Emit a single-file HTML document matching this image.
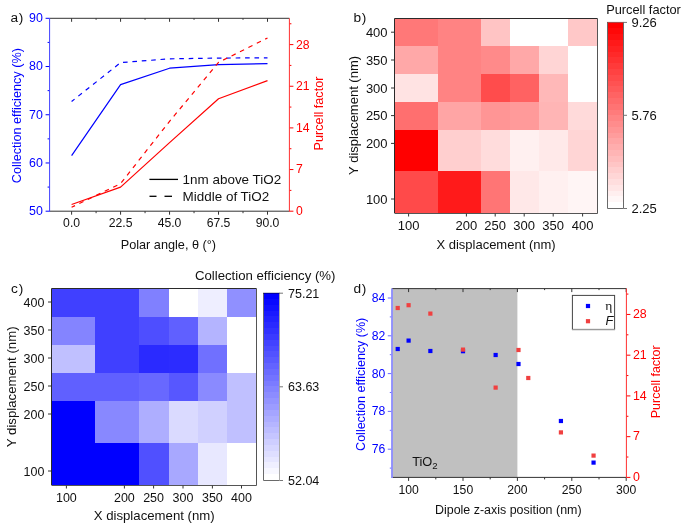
<!DOCTYPE html>
<html><head><meta charset="utf-8"><style>
html,body{margin:0;padding:0;background:#fff;}
svg{display:block;will-change:transform;font-family:'Liberation Sans',sans-serif;}
</style></head><body>
<svg width="685" height="525" viewBox="0 0 685 525">
<rect width="685" height="525" fill="#fff"/>
<line x1="45.60" y1="211.20" x2="49.60" y2="211.20" stroke="#0000ff" stroke-width="1" />
<text x="42.80" y="215.10" font-size="12.4" fill="#0000ff" text-anchor="end" >50</text>
<line x1="47.60" y1="187.09" x2="49.60" y2="187.09" stroke="#0000ff" stroke-width="1" />
<line x1="45.60" y1="162.97" x2="49.60" y2="162.97" stroke="#0000ff" stroke-width="1" />
<text x="42.80" y="166.88" font-size="12.4" fill="#0000ff" text-anchor="end" >60</text>
<line x1="47.60" y1="138.86" x2="49.60" y2="138.86" stroke="#0000ff" stroke-width="1" />
<line x1="45.60" y1="114.75" x2="49.60" y2="114.75" stroke="#0000ff" stroke-width="1" />
<text x="42.80" y="118.65" font-size="12.4" fill="#0000ff" text-anchor="end" >70</text>
<line x1="47.60" y1="90.64" x2="49.60" y2="90.64" stroke="#0000ff" stroke-width="1" />
<line x1="45.60" y1="66.53" x2="49.60" y2="66.53" stroke="#0000ff" stroke-width="1" />
<text x="42.80" y="70.43" font-size="12.4" fill="#0000ff" text-anchor="end" >80</text>
<line x1="47.60" y1="42.41" x2="49.60" y2="42.41" stroke="#0000ff" stroke-width="1" />
<line x1="45.60" y1="18.30" x2="49.60" y2="18.30" stroke="#0000ff" stroke-width="1" />
<text x="42.80" y="22.20" font-size="12.4" fill="#0000ff" text-anchor="end" >90</text>
<line x1="71.60" y1="211.20" x2="71.60" y2="214.70" stroke="#333" stroke-width="1" />
<line x1="71.60" y1="18.30" x2="71.60" y2="21.80" stroke="#333" stroke-width="1" />
<text x="71.60" y="227.20" font-size="12.2" fill="#111" text-anchor="middle" >0.0</text>
<line x1="96.09" y1="211.20" x2="96.09" y2="213.20" stroke="#333" stroke-width="1" />
<line x1="96.09" y1="18.30" x2="96.09" y2="19.80" stroke="#333" stroke-width="1" />
<line x1="120.57" y1="211.20" x2="120.57" y2="214.70" stroke="#333" stroke-width="1" />
<line x1="120.57" y1="18.30" x2="120.57" y2="21.80" stroke="#333" stroke-width="1" />
<text x="120.57" y="227.20" font-size="12.2" fill="#111" text-anchor="middle" >22.5</text>
<line x1="145.06" y1="211.20" x2="145.06" y2="213.20" stroke="#333" stroke-width="1" />
<line x1="145.06" y1="18.30" x2="145.06" y2="19.80" stroke="#333" stroke-width="1" />
<line x1="169.55" y1="211.20" x2="169.55" y2="214.70" stroke="#333" stroke-width="1" />
<line x1="169.55" y1="18.30" x2="169.55" y2="21.80" stroke="#333" stroke-width="1" />
<text x="169.55" y="227.20" font-size="12.2" fill="#111" text-anchor="middle" >45.0</text>
<line x1="194.04" y1="211.20" x2="194.04" y2="213.20" stroke="#333" stroke-width="1" />
<line x1="194.04" y1="18.30" x2="194.04" y2="19.80" stroke="#333" stroke-width="1" />
<line x1="218.53" y1="211.20" x2="218.53" y2="214.70" stroke="#333" stroke-width="1" />
<line x1="218.53" y1="18.30" x2="218.53" y2="21.80" stroke="#333" stroke-width="1" />
<text x="218.53" y="227.20" font-size="12.2" fill="#111" text-anchor="middle" >67.5</text>
<line x1="243.01" y1="211.20" x2="243.01" y2="213.20" stroke="#333" stroke-width="1" />
<line x1="243.01" y1="18.30" x2="243.01" y2="19.80" stroke="#333" stroke-width="1" />
<line x1="267.50" y1="211.20" x2="267.50" y2="214.70" stroke="#333" stroke-width="1" />
<line x1="267.50" y1="18.30" x2="267.50" y2="21.80" stroke="#333" stroke-width="1" />
<text x="267.50" y="227.20" font-size="12.2" fill="#111" text-anchor="middle" >90.0</text>
<line x1="289.40" y1="211.20" x2="293.40" y2="211.20" stroke="#ff0000" stroke-width="1" />
<text x="295.90" y="215.10" font-size="12.2" fill="#ff0000" text-anchor="start" >0</text>
<line x1="289.40" y1="190.38" x2="291.40" y2="190.38" stroke="#ff0000" stroke-width="1" />
<line x1="289.40" y1="169.55" x2="293.40" y2="169.55" stroke="#ff0000" stroke-width="1" />
<text x="295.90" y="173.45" font-size="12.2" fill="#ff0000" text-anchor="start" >7</text>
<line x1="289.40" y1="148.72" x2="291.40" y2="148.72" stroke="#ff0000" stroke-width="1" />
<line x1="289.40" y1="127.90" x2="293.40" y2="127.90" stroke="#ff0000" stroke-width="1" />
<text x="295.90" y="131.80" font-size="12.2" fill="#ff0000" text-anchor="start" >14</text>
<line x1="289.40" y1="107.07" x2="291.40" y2="107.07" stroke="#ff0000" stroke-width="1" />
<line x1="289.40" y1="86.25" x2="293.40" y2="86.25" stroke="#ff0000" stroke-width="1" />
<text x="295.90" y="90.15" font-size="12.2" fill="#ff0000" text-anchor="start" >21</text>
<line x1="289.40" y1="65.42" x2="291.40" y2="65.42" stroke="#ff0000" stroke-width="1" />
<line x1="289.40" y1="44.60" x2="293.40" y2="44.60" stroke="#ff0000" stroke-width="1" />
<text x="295.90" y="48.50" font-size="12.2" fill="#ff0000" text-anchor="start" >28</text>
<line x1="289.40" y1="23.77" x2="291.40" y2="23.77" stroke="#ff0000" stroke-width="1" />
<line x1="49.60" y1="18.30" x2="289.40" y2="18.30" stroke="#333" stroke-width="1" />
<line x1="49.60" y1="211.20" x2="289.40" y2="211.20" stroke="#333" stroke-width="1" />
<line x1="49.60" y1="18.30" x2="49.60" y2="211.70" stroke="#4040ff" stroke-width="1" />
<line x1="289.40" y1="18.30" x2="289.40" y2="211.70" stroke="#ff3030" stroke-width="1" />
<polyline points="71.60,155.60 120.57,84.60 169.55,68.20 218.53,64.60 267.50,63.70" fill="none" stroke="#0000ff" stroke-width="1.2"  stroke-linejoin="round"/>
<polyline points="71.60,101.50 120.57,62.60 169.55,58.80 218.53,58.10 267.50,57.80" fill="none" stroke="#0000ff" stroke-width="1.2" stroke-dasharray="4.6 4.8" stroke-dashoffset="0.8" stroke-linejoin="round"/>
<polyline points="71.60,204.50 120.57,187.10 169.55,142.60 218.53,98.80 267.50,80.60" fill="none" stroke="#ff0000" stroke-width="1.2"  stroke-linejoin="round"/>
<polyline points="71.60,207.30 120.57,183.60 169.55,121.30 218.53,62.40 267.50,38.00" fill="none" stroke="#ff0000" stroke-width="1.2" stroke-dasharray="4.6 4.8" stroke-dashoffset="0.8" stroke-linejoin="round"/>
<line x1="149.40" y1="179.40" x2="178.00" y2="179.40" stroke="#000" stroke-width="1.3" />
<line x1="149.50" y1="196.30" x2="156.50" y2="196.30" stroke="#000" stroke-width="1.3" />
<line x1="164.50" y1="196.30" x2="172.00" y2="196.30" stroke="#000" stroke-width="1.3" />
<text x="182.60" y="184.20" font-size="13.45" fill="#111" text-anchor="start" >1nm above TiO2</text>
<text x="182.60" y="201.20" font-size="13.45" fill="#111" text-anchor="start" >Middle of TiO2</text>
<text x="168.40" y="249.00" font-size="12.7" fill="#111" text-anchor="middle" >Polar angle, θ (°)</text>
<text transform="translate(21.3,115.6) rotate(-90)" font-size="12.7" fill="#0000ff" text-anchor="middle">Collection efficiency (%)</text>
<text transform="translate(322.8,113.5) rotate(-90)" font-size="12.65" fill="#ff0000" text-anchor="middle">Purcell factor</text>
<text x="10.40" y="21.70" font-size="13.7" fill="#111" text-anchor="start" letter-spacing="0.7">a)</text>
<rect x="395.00" y="19.00" width="43.00" height="27.00" fill="#ff7878" shape-rendering="crispEdges"/>
<rect x="438.00" y="19.00" width="43.00" height="27.00" fill="#ff8383" shape-rendering="crispEdges"/>
<rect x="481.00" y="19.00" width="29.00" height="27.00" fill="#ffc4c4" shape-rendering="crispEdges"/>
<rect x="510.00" y="19.00" width="29.00" height="27.00" fill="#ffffff" shape-rendering="crispEdges"/>
<rect x="539.00" y="19.00" width="29.00" height="27.00" fill="#ffffff" shape-rendering="crispEdges"/>
<rect x="568.00" y="19.00" width="29.00" height="27.00" fill="#ffc8c8" shape-rendering="crispEdges"/>
<rect x="395.00" y="46.00" width="43.00" height="28.00" fill="#ffa8a8" shape-rendering="crispEdges"/>
<rect x="438.00" y="46.00" width="43.00" height="28.00" fill="#ff8383" shape-rendering="crispEdges"/>
<rect x="481.00" y="46.00" width="29.00" height="28.00" fill="#ff8a8a" shape-rendering="crispEdges"/>
<rect x="510.00" y="46.00" width="29.00" height="28.00" fill="#ffa8a8" shape-rendering="crispEdges"/>
<rect x="539.00" y="46.00" width="29.00" height="28.00" fill="#ffd5d5" shape-rendering="crispEdges"/>
<rect x="568.00" y="46.00" width="29.00" height="28.00" fill="#ffffff" shape-rendering="crispEdges"/>
<rect x="395.00" y="74.00" width="43.00" height="28.00" fill="#ffe3e3" shape-rendering="crispEdges"/>
<rect x="438.00" y="74.00" width="43.00" height="28.00" fill="#ff8383" shape-rendering="crispEdges"/>
<rect x="481.00" y="74.00" width="29.00" height="28.00" fill="#ff4c4c" shape-rendering="crispEdges"/>
<rect x="510.00" y="74.00" width="29.00" height="28.00" fill="#ff6262" shape-rendering="crispEdges"/>
<rect x="539.00" y="74.00" width="29.00" height="28.00" fill="#ffb8b8" shape-rendering="crispEdges"/>
<rect x="568.00" y="74.00" width="29.00" height="28.00" fill="#ffffff" shape-rendering="crispEdges"/>
<rect x="395.00" y="102.00" width="43.00" height="28.00" fill="#ff6f6f" shape-rendering="crispEdges"/>
<rect x="438.00" y="102.00" width="43.00" height="28.00" fill="#ffa5a5" shape-rendering="crispEdges"/>
<rect x="481.00" y="102.00" width="29.00" height="28.00" fill="#ff9595" shape-rendering="crispEdges"/>
<rect x="510.00" y="102.00" width="29.00" height="28.00" fill="#ff9a9a" shape-rendering="crispEdges"/>
<rect x="539.00" y="102.00" width="29.00" height="28.00" fill="#ffb5b5" shape-rendering="crispEdges"/>
<rect x="568.00" y="102.00" width="29.00" height="28.00" fill="#ffdada" shape-rendering="crispEdges"/>
<rect x="395.00" y="130.00" width="43.00" height="41.00" fill="#ff0000" shape-rendering="crispEdges"/>
<rect x="438.00" y="130.00" width="43.00" height="41.00" fill="#ffcfcf" shape-rendering="crispEdges"/>
<rect x="481.00" y="130.00" width="29.00" height="41.00" fill="#ffdcdc" shape-rendering="crispEdges"/>
<rect x="510.00" y="130.00" width="29.00" height="41.00" fill="#fff0f0" shape-rendering="crispEdges"/>
<rect x="539.00" y="130.00" width="29.00" height="41.00" fill="#ffe9e9" shape-rendering="crispEdges"/>
<rect x="568.00" y="130.00" width="29.00" height="41.00" fill="#ffd5d5" shape-rendering="crispEdges"/>
<rect x="395.00" y="171.00" width="43.00" height="42.00" fill="#ff4a4a" shape-rendering="crispEdges"/>
<rect x="438.00" y="171.00" width="43.00" height="42.00" fill="#ff1a1a" shape-rendering="crispEdges"/>
<rect x="481.00" y="171.00" width="29.00" height="42.00" fill="#ff7575" shape-rendering="crispEdges"/>
<rect x="510.00" y="171.00" width="29.00" height="42.00" fill="#ffe8e8" shape-rendering="crispEdges"/>
<rect x="539.00" y="171.00" width="29.00" height="42.00" fill="#fff0f0" shape-rendering="crispEdges"/>
<rect x="568.00" y="171.00" width="29.00" height="42.00" fill="#fff5f5" shape-rendering="crispEdges"/>
<path d="M394.5 213 V18.5 H597.5" fill="none" stroke="#2a2a2a" stroke-width="1"/>
<path d="M597.5 18.5 V213.5 H394.5" fill="none" stroke="#555" stroke-width="1"/>
<line x1="391.00" y1="32.20" x2="394.50" y2="32.20" stroke="#333" stroke-width="1" />
<text x="387.60" y="36.80" font-size="13" fill="#111" text-anchor="end" >400</text>
<line x1="391.00" y1="60.00" x2="394.50" y2="60.00" stroke="#333" stroke-width="1" />
<text x="387.60" y="64.60" font-size="13" fill="#111" text-anchor="end" >350</text>
<line x1="391.00" y1="88.00" x2="394.50" y2="88.00" stroke="#333" stroke-width="1" />
<text x="387.60" y="92.60" font-size="13" fill="#111" text-anchor="end" >300</text>
<line x1="391.00" y1="115.60" x2="394.50" y2="115.60" stroke="#333" stroke-width="1" />
<text x="387.60" y="120.20" font-size="13" fill="#111" text-anchor="end" >250</text>
<line x1="391.00" y1="143.40" x2="394.50" y2="143.40" stroke="#333" stroke-width="1" />
<text x="387.60" y="148.00" font-size="13" fill="#111" text-anchor="end" >200</text>
<line x1="391.00" y1="199.00" x2="394.50" y2="199.00" stroke="#333" stroke-width="1" />
<text x="387.60" y="203.60" font-size="13" fill="#111" text-anchor="end" >100</text>
<line x1="408.60" y1="213.50" x2="408.60" y2="216.50" stroke="#333" stroke-width="1" />
<text x="408.60" y="230.20" font-size="13" fill="#111" text-anchor="middle" >100</text>
<line x1="466.40" y1="213.50" x2="466.40" y2="216.50" stroke="#333" stroke-width="1" />
<text x="466.40" y="230.20" font-size="13" fill="#111" text-anchor="middle" >200</text>
<line x1="495.20" y1="213.50" x2="495.20" y2="216.50" stroke="#333" stroke-width="1" />
<text x="495.20" y="230.20" font-size="13" fill="#111" text-anchor="middle" >250</text>
<line x1="524.20" y1="213.50" x2="524.20" y2="216.50" stroke="#333" stroke-width="1" />
<text x="524.20" y="230.20" font-size="13" fill="#111" text-anchor="middle" >300</text>
<line x1="553.20" y1="213.50" x2="553.20" y2="216.50" stroke="#333" stroke-width="1" />
<text x="553.20" y="230.20" font-size="13" fill="#111" text-anchor="middle" >350</text>
<line x1="582.60" y1="213.50" x2="582.60" y2="216.50" stroke="#333" stroke-width="1" />
<text x="582.60" y="230.20" font-size="13" fill="#111" text-anchor="middle" >400</text>
<text x="496.00" y="249.20" font-size="13" fill="#111" text-anchor="middle" >X displacement (nm)</text>
<text transform="translate(357.7,115.4) rotate(-90)" font-size="13" fill="#111" text-anchor="middle">Y displacement (nm)</text>
<text x="353.50" y="21.70" font-size="13.7" fill="#111" text-anchor="start" letter-spacing="0.7">b)</text>
<defs><linearGradient id="gr" x1="0" y1="0" x2="0" y2="1"><stop offset="0.00000" stop-color="#ff0000"/><stop offset="0.03125" stop-color="#ff0000"/><stop offset="0.03125" stop-color="#ff0808"/><stop offset="0.06250" stop-color="#ff0808"/><stop offset="0.06250" stop-color="#ff1010"/><stop offset="0.09375" stop-color="#ff1010"/><stop offset="0.09375" stop-color="#ff1919"/><stop offset="0.12500" stop-color="#ff1919"/><stop offset="0.12500" stop-color="#ff2121"/><stop offset="0.15625" stop-color="#ff2121"/><stop offset="0.15625" stop-color="#ff2929"/><stop offset="0.18750" stop-color="#ff2929"/><stop offset="0.18750" stop-color="#ff3131"/><stop offset="0.21875" stop-color="#ff3131"/><stop offset="0.21875" stop-color="#ff3a3a"/><stop offset="0.25000" stop-color="#ff3a3a"/><stop offset="0.25000" stop-color="#ff4242"/><stop offset="0.28125" stop-color="#ff4242"/><stop offset="0.28125" stop-color="#ff4a4a"/><stop offset="0.31250" stop-color="#ff4a4a"/><stop offset="0.31250" stop-color="#ff5252"/><stop offset="0.34375" stop-color="#ff5252"/><stop offset="0.34375" stop-color="#ff5a5a"/><stop offset="0.37500" stop-color="#ff5a5a"/><stop offset="0.37500" stop-color="#ff6363"/><stop offset="0.40625" stop-color="#ff6363"/><stop offset="0.40625" stop-color="#ff6b6b"/><stop offset="0.43750" stop-color="#ff6b6b"/><stop offset="0.43750" stop-color="#ff7373"/><stop offset="0.46875" stop-color="#ff7373"/><stop offset="0.46875" stop-color="#ff7b7b"/><stop offset="0.50000" stop-color="#ff7b7b"/><stop offset="0.50000" stop-color="#ff8484"/><stop offset="0.53125" stop-color="#ff8484"/><stop offset="0.53125" stop-color="#ff8c8c"/><stop offset="0.56250" stop-color="#ff8c8c"/><stop offset="0.56250" stop-color="#ff9494"/><stop offset="0.59375" stop-color="#ff9494"/><stop offset="0.59375" stop-color="#ff9c9c"/><stop offset="0.62500" stop-color="#ff9c9c"/><stop offset="0.62500" stop-color="#ffa5a5"/><stop offset="0.65625" stop-color="#ffa5a5"/><stop offset="0.65625" stop-color="#ffadad"/><stop offset="0.68750" stop-color="#ffadad"/><stop offset="0.68750" stop-color="#ffb5b5"/><stop offset="0.71875" stop-color="#ffb5b5"/><stop offset="0.71875" stop-color="#ffbdbd"/><stop offset="0.75000" stop-color="#ffbdbd"/><stop offset="0.75000" stop-color="#ffc5c5"/><stop offset="0.78125" stop-color="#ffc5c5"/><stop offset="0.78125" stop-color="#ffcece"/><stop offset="0.81250" stop-color="#ffcece"/><stop offset="0.81250" stop-color="#ffd6d6"/><stop offset="0.84375" stop-color="#ffd6d6"/><stop offset="0.84375" stop-color="#ffdede"/><stop offset="0.87500" stop-color="#ffdede"/><stop offset="0.87500" stop-color="#ffe6e6"/><stop offset="0.90625" stop-color="#ffe6e6"/><stop offset="0.90625" stop-color="#ffefef"/><stop offset="0.93750" stop-color="#ffefef"/><stop offset="0.93750" stop-color="#fff7f7"/><stop offset="0.96875" stop-color="#fff7f7"/><stop offset="0.96875" stop-color="#ffffff"/><stop offset="1.00000" stop-color="#ffffff"/></linearGradient><linearGradient id="gb" x1="0" y1="0" x2="0" y2="1"><stop offset="0.00000" stop-color="#0000ff"/><stop offset="0.03125" stop-color="#0000ff"/><stop offset="0.03125" stop-color="#0808ff"/><stop offset="0.06250" stop-color="#0808ff"/><stop offset="0.06250" stop-color="#1010ff"/><stop offset="0.09375" stop-color="#1010ff"/><stop offset="0.09375" stop-color="#1919ff"/><stop offset="0.12500" stop-color="#1919ff"/><stop offset="0.12500" stop-color="#2121ff"/><stop offset="0.15625" stop-color="#2121ff"/><stop offset="0.15625" stop-color="#2929ff"/><stop offset="0.18750" stop-color="#2929ff"/><stop offset="0.18750" stop-color="#3131ff"/><stop offset="0.21875" stop-color="#3131ff"/><stop offset="0.21875" stop-color="#3a3aff"/><stop offset="0.25000" stop-color="#3a3aff"/><stop offset="0.25000" stop-color="#4242ff"/><stop offset="0.28125" stop-color="#4242ff"/><stop offset="0.28125" stop-color="#4a4aff"/><stop offset="0.31250" stop-color="#4a4aff"/><stop offset="0.31250" stop-color="#5252ff"/><stop offset="0.34375" stop-color="#5252ff"/><stop offset="0.34375" stop-color="#5a5aff"/><stop offset="0.37500" stop-color="#5a5aff"/><stop offset="0.37500" stop-color="#6363ff"/><stop offset="0.40625" stop-color="#6363ff"/><stop offset="0.40625" stop-color="#6b6bff"/><stop offset="0.43750" stop-color="#6b6bff"/><stop offset="0.43750" stop-color="#7373ff"/><stop offset="0.46875" stop-color="#7373ff"/><stop offset="0.46875" stop-color="#7b7bff"/><stop offset="0.50000" stop-color="#7b7bff"/><stop offset="0.50000" stop-color="#8484ff"/><stop offset="0.53125" stop-color="#8484ff"/><stop offset="0.53125" stop-color="#8c8cff"/><stop offset="0.56250" stop-color="#8c8cff"/><stop offset="0.56250" stop-color="#9494ff"/><stop offset="0.59375" stop-color="#9494ff"/><stop offset="0.59375" stop-color="#9c9cff"/><stop offset="0.62500" stop-color="#9c9cff"/><stop offset="0.62500" stop-color="#a5a5ff"/><stop offset="0.65625" stop-color="#a5a5ff"/><stop offset="0.65625" stop-color="#adadff"/><stop offset="0.68750" stop-color="#adadff"/><stop offset="0.68750" stop-color="#b5b5ff"/><stop offset="0.71875" stop-color="#b5b5ff"/><stop offset="0.71875" stop-color="#bdbdff"/><stop offset="0.75000" stop-color="#bdbdff"/><stop offset="0.75000" stop-color="#c5c5ff"/><stop offset="0.78125" stop-color="#c5c5ff"/><stop offset="0.78125" stop-color="#ceceff"/><stop offset="0.81250" stop-color="#ceceff"/><stop offset="0.81250" stop-color="#d6d6ff"/><stop offset="0.84375" stop-color="#d6d6ff"/><stop offset="0.84375" stop-color="#dedeff"/><stop offset="0.87500" stop-color="#dedeff"/><stop offset="0.87500" stop-color="#e6e6ff"/><stop offset="0.90625" stop-color="#e6e6ff"/><stop offset="0.90625" stop-color="#efefff"/><stop offset="0.93750" stop-color="#efefff"/><stop offset="0.93750" stop-color="#f7f7ff"/><stop offset="0.96875" stop-color="#f7f7ff"/><stop offset="0.96875" stop-color="#ffffff"/><stop offset="1.00000" stop-color="#ffffff"/></linearGradient></defs>
<rect x="608.00" y="22.60" width="15.00" height="185.40" fill="url(#gr)" />
<path d="M607.5 22.4 V208.5 H623.5 V22.4" fill="none" stroke="#6a6a6a" stroke-width="1"/><line x1="607" y1="22.4" x2="624" y2="22.4" stroke="#600" stroke-width="0.6"/>
<line x1="623.50" y1="22.40" x2="627.00" y2="22.40" stroke="#777" stroke-width="1" />
<text x="631.50" y="27.00" font-size="13" fill="#111" text-anchor="start" >9.26</text>
<line x1="623.50" y1="115.30" x2="627.00" y2="115.30" stroke="#777" stroke-width="1" />
<text x="631.50" y="119.90" font-size="13" fill="#111" text-anchor="start" >5.76</text>
<line x1="623.50" y1="208.50" x2="627.00" y2="208.50" stroke="#777" stroke-width="1" />
<text x="631.50" y="213.10" font-size="13" fill="#111" text-anchor="start" >2.25</text>
<text x="643.50" y="14.20" font-size="12.8" fill="#111" text-anchor="middle" >Purcell factor</text>
<rect x="52.00" y="289.00" width="43.00" height="28.00" fill="#4040ff" shape-rendering="crispEdges"/>
<rect x="95.00" y="289.00" width="44.00" height="28.00" fill="#4040ff" shape-rendering="crispEdges"/>
<rect x="139.00" y="289.00" width="30.00" height="28.00" fill="#8080ff" shape-rendering="crispEdges"/>
<rect x="169.00" y="289.00" width="29.00" height="28.00" fill="#ffffff" shape-rendering="crispEdges"/>
<rect x="198.00" y="289.00" width="29.00" height="28.00" fill="#eeeeff" shape-rendering="crispEdges"/>
<rect x="227.00" y="289.00" width="29.00" height="28.00" fill="#9090ff" shape-rendering="crispEdges"/>
<rect x="52.00" y="317.00" width="43.00" height="28.00" fill="#8484ff" shape-rendering="crispEdges"/>
<rect x="95.00" y="317.00" width="44.00" height="28.00" fill="#4040ff" shape-rendering="crispEdges"/>
<rect x="139.00" y="317.00" width="30.00" height="28.00" fill="#4e4eff" shape-rendering="crispEdges"/>
<rect x="169.00" y="317.00" width="29.00" height="28.00" fill="#6060ff" shape-rendering="crispEdges"/>
<rect x="198.00" y="317.00" width="29.00" height="28.00" fill="#b4b4ff" shape-rendering="crispEdges"/>
<rect x="227.00" y="317.00" width="29.00" height="28.00" fill="#ffffff" shape-rendering="crispEdges"/>
<rect x="52.00" y="345.00" width="43.00" height="28.00" fill="#c0c0ff" shape-rendering="crispEdges"/>
<rect x="95.00" y="345.00" width="44.00" height="28.00" fill="#4040ff" shape-rendering="crispEdges"/>
<rect x="139.00" y="345.00" width="30.00" height="28.00" fill="#2a2aff" shape-rendering="crispEdges"/>
<rect x="169.00" y="345.00" width="29.00" height="28.00" fill="#2c2cff" shape-rendering="crispEdges"/>
<rect x="198.00" y="345.00" width="29.00" height="28.00" fill="#7070ff" shape-rendering="crispEdges"/>
<rect x="227.00" y="345.00" width="29.00" height="28.00" fill="#ffffff" shape-rendering="crispEdges"/>
<rect x="52.00" y="373.00" width="43.00" height="28.00" fill="#6060ff" shape-rendering="crispEdges"/>
<rect x="95.00" y="373.00" width="44.00" height="28.00" fill="#6060ff" shape-rendering="crispEdges"/>
<rect x="139.00" y="373.00" width="30.00" height="28.00" fill="#6868ff" shape-rendering="crispEdges"/>
<rect x="169.00" y="373.00" width="29.00" height="28.00" fill="#5757ff" shape-rendering="crispEdges"/>
<rect x="198.00" y="373.00" width="29.00" height="28.00" fill="#8a8aff" shape-rendering="crispEdges"/>
<rect x="227.00" y="373.00" width="29.00" height="28.00" fill="#c0c0ff" shape-rendering="crispEdges"/>
<rect x="52.00" y="401.00" width="43.00" height="42.00" fill="#0000ff" shape-rendering="crispEdges"/>
<rect x="95.00" y="401.00" width="44.00" height="42.00" fill="#8888ff" shape-rendering="crispEdges"/>
<rect x="139.00" y="401.00" width="30.00" height="42.00" fill="#aeaeff" shape-rendering="crispEdges"/>
<rect x="169.00" y="401.00" width="29.00" height="42.00" fill="#dadaff" shape-rendering="crispEdges"/>
<rect x="198.00" y="401.00" width="29.00" height="42.00" fill="#d0d0ff" shape-rendering="crispEdges"/>
<rect x="227.00" y="401.00" width="29.00" height="42.00" fill="#c0c0ff" shape-rendering="crispEdges"/>
<rect x="52.00" y="443.00" width="43.00" height="42.00" fill="#0000ff" shape-rendering="crispEdges"/>
<rect x="95.00" y="443.00" width="44.00" height="42.00" fill="#0000ff" shape-rendering="crispEdges"/>
<rect x="139.00" y="443.00" width="30.00" height="42.00" fill="#5050ff" shape-rendering="crispEdges"/>
<rect x="169.00" y="443.00" width="29.00" height="42.00" fill="#a8a8ff" shape-rendering="crispEdges"/>
<rect x="198.00" y="443.00" width="29.00" height="42.00" fill="#e8e8ff" shape-rendering="crispEdges"/>
<rect x="227.00" y="443.00" width="29.00" height="42.00" fill="#ffffff" shape-rendering="crispEdges"/>
<path d="M51.5 485 V288.5 H256.5" fill="none" stroke="#2a2a2a" stroke-width="1"/>
<path d="M256.5 288.5 V485.5 H51.5" fill="none" stroke="#555" stroke-width="1"/>
<line x1="48.00" y1="302.00" x2="51.50" y2="302.00" stroke="#333" stroke-width="1" />
<text x="44.40" y="306.50" font-size="12.5" fill="#111" text-anchor="end" >400</text>
<line x1="48.00" y1="330.00" x2="51.50" y2="330.00" stroke="#333" stroke-width="1" />
<text x="44.40" y="334.50" font-size="12.5" fill="#111" text-anchor="end" >350</text>
<line x1="48.00" y1="358.00" x2="51.50" y2="358.00" stroke="#333" stroke-width="1" />
<text x="44.40" y="362.50" font-size="12.5" fill="#111" text-anchor="end" >300</text>
<line x1="48.00" y1="386.00" x2="51.50" y2="386.00" stroke="#333" stroke-width="1" />
<text x="44.40" y="390.50" font-size="12.5" fill="#111" text-anchor="end" >250</text>
<line x1="48.00" y1="414.00" x2="51.50" y2="414.00" stroke="#333" stroke-width="1" />
<text x="44.40" y="418.50" font-size="12.5" fill="#111" text-anchor="end" >200</text>
<line x1="48.00" y1="471.00" x2="51.50" y2="471.00" stroke="#333" stroke-width="1" />
<text x="44.40" y="475.50" font-size="12.5" fill="#111" text-anchor="end" >100</text>
<line x1="66.40" y1="485.50" x2="66.40" y2="488.50" stroke="#333" stroke-width="1" />
<text x="66.40" y="502.00" font-size="12.5" fill="#111" text-anchor="middle" >100</text>
<line x1="124.40" y1="485.50" x2="124.40" y2="488.50" stroke="#333" stroke-width="1" />
<text x="124.40" y="502.00" font-size="12.5" fill="#111" text-anchor="middle" >200</text>
<line x1="153.60" y1="485.50" x2="153.60" y2="488.50" stroke="#333" stroke-width="1" />
<text x="153.60" y="502.00" font-size="12.5" fill="#111" text-anchor="middle" >250</text>
<line x1="183.00" y1="485.50" x2="183.00" y2="488.50" stroke="#333" stroke-width="1" />
<text x="183.00" y="502.00" font-size="12.5" fill="#111" text-anchor="middle" >300</text>
<line x1="212.40" y1="485.50" x2="212.40" y2="488.50" stroke="#333" stroke-width="1" />
<text x="212.40" y="502.00" font-size="12.5" fill="#111" text-anchor="middle" >350</text>
<line x1="241.50" y1="485.50" x2="241.50" y2="488.50" stroke="#333" stroke-width="1" />
<text x="241.50" y="502.00" font-size="12.5" fill="#111" text-anchor="middle" >400</text>
<text x="154.20" y="520.30" font-size="13.2" fill="#111" text-anchor="middle" >X displacement (nm)</text>
<text transform="translate(15.5,386.8) rotate(-90)" font-size="13.2" fill="#111" text-anchor="middle">Y displacement (nm)</text>
<text x="11.10" y="292.70" font-size="13.7" fill="#111" text-anchor="start" letter-spacing="0.7">c)</text>
<rect x="264.00" y="293.00" width="15.00" height="187.00" fill="url(#gb)" />
<path d="M263.5 293 V480.5 H279.5" fill="none" stroke="#6a6a6a" stroke-width="1"/><line x1="279.5" y1="293" x2="279.5" y2="480" stroke="#aaa" stroke-width="1"/><line x1="263" y1="293.2" x2="280" y2="293.2" stroke="#003" stroke-width="0.6"/>
<line x1="279.50" y1="293.20" x2="283.00" y2="293.20" stroke="#777" stroke-width="1" />
<text x="288.00" y="297.80" font-size="12.5" fill="#111" text-anchor="start" >75.21</text>
<line x1="279.50" y1="386.80" x2="283.00" y2="386.80" stroke="#777" stroke-width="1" />
<text x="288.00" y="391.40" font-size="12.5" fill="#111" text-anchor="start" >63.63</text>
<line x1="279.50" y1="480.50" x2="283.00" y2="480.50" stroke="#777" stroke-width="1" />
<text x="288.00" y="485.10" font-size="12.5" fill="#111" text-anchor="start" >52.04</text>
<text x="265.20" y="280.40" font-size="13.2" fill="#111" text-anchor="middle" >Collection efficiency (%)</text>
<rect x="391.80" y="288.60" width="125.60" height="188.80" fill="#c0c0c0" />
<line x1="389.80" y1="468.10" x2="391.80" y2="468.10" stroke="#6a6aff" stroke-width="1" />
<line x1="387.80" y1="449.20" x2="391.80" y2="449.20" stroke="#6a6aff" stroke-width="1" />
<text x="385.40" y="453.20" font-size="12.2" fill="#0000ff" text-anchor="end" >76</text>
<line x1="389.80" y1="430.30" x2="391.80" y2="430.30" stroke="#6a6aff" stroke-width="1" />
<line x1="387.80" y1="411.40" x2="391.80" y2="411.40" stroke="#6a6aff" stroke-width="1" />
<text x="385.40" y="415.40" font-size="12.2" fill="#0000ff" text-anchor="end" >78</text>
<line x1="389.80" y1="392.50" x2="391.80" y2="392.50" stroke="#6a6aff" stroke-width="1" />
<line x1="387.80" y1="373.60" x2="391.80" y2="373.60" stroke="#6a6aff" stroke-width="1" />
<text x="385.40" y="377.60" font-size="12.2" fill="#0000ff" text-anchor="end" >80</text>
<line x1="389.80" y1="354.70" x2="391.80" y2="354.70" stroke="#6a6aff" stroke-width="1" />
<line x1="387.80" y1="335.80" x2="391.80" y2="335.80" stroke="#6a6aff" stroke-width="1" />
<text x="385.40" y="339.80" font-size="12.2" fill="#0000ff" text-anchor="end" >82</text>
<line x1="389.80" y1="316.90" x2="391.80" y2="316.90" stroke="#6a6aff" stroke-width="1" />
<line x1="387.80" y1="298.00" x2="391.80" y2="298.00" stroke="#6a6aff" stroke-width="1" />
<text x="385.40" y="302.00" font-size="12.2" fill="#0000ff" text-anchor="end" >84</text>
<line x1="408.60" y1="477.40" x2="408.60" y2="480.90" stroke="#333" stroke-width="1" />
<line x1="408.60" y1="288.60" x2="408.60" y2="292.10" stroke="#333" stroke-width="1" />
<text x="408.60" y="493.60" font-size="12.2" fill="#111" text-anchor="middle" >100</text>
<line x1="435.80" y1="477.40" x2="435.80" y2="479.40" stroke="#333" stroke-width="1" />
<line x1="435.80" y1="288.60" x2="435.80" y2="290.10" stroke="#333" stroke-width="1" />
<line x1="463.00" y1="477.40" x2="463.00" y2="480.90" stroke="#333" stroke-width="1" />
<line x1="463.00" y1="288.60" x2="463.00" y2="292.10" stroke="#333" stroke-width="1" />
<text x="463.00" y="493.60" font-size="12.2" fill="#111" text-anchor="middle" >150</text>
<line x1="490.20" y1="477.40" x2="490.20" y2="479.40" stroke="#333" stroke-width="1" />
<line x1="490.20" y1="288.60" x2="490.20" y2="290.10" stroke="#333" stroke-width="1" />
<line x1="517.40" y1="477.40" x2="517.40" y2="480.90" stroke="#333" stroke-width="1" />
<line x1="517.40" y1="288.60" x2="517.40" y2="292.10" stroke="#333" stroke-width="1" />
<text x="517.40" y="493.60" font-size="12.2" fill="#111" text-anchor="middle" >200</text>
<line x1="544.60" y1="477.40" x2="544.60" y2="479.40" stroke="#333" stroke-width="1" />
<line x1="544.60" y1="288.60" x2="544.60" y2="290.10" stroke="#333" stroke-width="1" />
<line x1="571.80" y1="477.40" x2="571.80" y2="480.90" stroke="#333" stroke-width="1" />
<line x1="571.80" y1="288.60" x2="571.80" y2="292.10" stroke="#333" stroke-width="1" />
<text x="571.80" y="493.60" font-size="12.2" fill="#111" text-anchor="middle" >250</text>
<line x1="599.00" y1="477.40" x2="599.00" y2="479.40" stroke="#333" stroke-width="1" />
<line x1="599.00" y1="288.60" x2="599.00" y2="290.10" stroke="#333" stroke-width="1" />
<line x1="626.20" y1="477.40" x2="626.20" y2="480.90" stroke="#333" stroke-width="1" />
<line x1="626.20" y1="288.60" x2="626.20" y2="292.10" stroke="#333" stroke-width="1" />
<text x="626.20" y="493.60" font-size="12.2" fill="#111" text-anchor="middle" >300</text>
<line x1="626.40" y1="477.40" x2="630.40" y2="477.40" stroke="#ff0000" stroke-width="1" />
<text x="632.90" y="481.20" font-size="12.4" fill="#ff0000" text-anchor="start" >0</text>
<line x1="626.40" y1="457.03" x2="628.40" y2="457.03" stroke="#ff0000" stroke-width="1" />
<line x1="626.40" y1="436.66" x2="630.40" y2="436.66" stroke="#ff0000" stroke-width="1" />
<text x="632.90" y="440.46" font-size="12.4" fill="#ff0000" text-anchor="start" >7</text>
<line x1="626.40" y1="416.29" x2="628.40" y2="416.29" stroke="#ff0000" stroke-width="1" />
<line x1="626.40" y1="395.92" x2="630.40" y2="395.92" stroke="#ff0000" stroke-width="1" />
<text x="632.90" y="399.72" font-size="12.4" fill="#ff0000" text-anchor="start" >14</text>
<line x1="626.40" y1="375.55" x2="628.40" y2="375.55" stroke="#ff0000" stroke-width="1" />
<line x1="626.40" y1="355.18" x2="630.40" y2="355.18" stroke="#ff0000" stroke-width="1" />
<text x="632.90" y="358.98" font-size="12.4" fill="#ff0000" text-anchor="start" >21</text>
<line x1="626.40" y1="334.81" x2="628.40" y2="334.81" stroke="#ff0000" stroke-width="1" />
<line x1="626.40" y1="314.44" x2="630.40" y2="314.44" stroke="#ff0000" stroke-width="1" />
<text x="632.90" y="318.24" font-size="12.4" fill="#ff0000" text-anchor="start" >28</text>
<line x1="626.40" y1="294.07" x2="628.40" y2="294.07" stroke="#ff0000" stroke-width="1" />
<line x1="391.80" y1="288.60" x2="626.40" y2="288.60" stroke="#333" stroke-width="1" />
<line x1="391.80" y1="477.40" x2="626.40" y2="477.40" stroke="#333" stroke-width="1" />
<line x1="392.00" y1="288.60" x2="392.00" y2="477.90" stroke="#8c8cff" stroke-width="1.8" />
<line x1="626.40" y1="288.60" x2="626.40" y2="477.90" stroke="#ff3030" stroke-width="1" />
<rect x="395.62" y="346.90" width="4.20" height="4.20" fill="#0000ff" />
<rect x="406.50" y="338.50" width="4.20" height="4.20" fill="#0000ff" />
<rect x="428.26" y="348.90" width="4.20" height="4.20" fill="#0000ff" />
<rect x="460.90" y="349.10" width="4.20" height="4.20" fill="#0000ff" />
<rect x="493.54" y="352.90" width="4.20" height="4.20" fill="#0000ff" />
<rect x="516.39" y="361.90" width="4.20" height="4.20" fill="#0000ff" />
<rect x="558.82" y="418.90" width="4.20" height="4.20" fill="#0000ff" />
<rect x="591.46" y="460.50" width="4.20" height="4.20" fill="#0000ff" />
<rect x="395.62" y="305.90" width="4.20" height="4.20" fill="#f04040" />
<rect x="406.50" y="303.10" width="4.20" height="4.20" fill="#f04040" />
<rect x="428.26" y="311.50" width="4.20" height="4.20" fill="#f04040" />
<rect x="460.90" y="347.50" width="4.20" height="4.20" fill="#f04040" />
<rect x="493.54" y="385.50" width="4.20" height="4.20" fill="#f04040" />
<rect x="516.39" y="347.90" width="4.20" height="4.20" fill="#f04040" />
<rect x="526.18" y="375.90" width="4.20" height="4.20" fill="#f04040" />
<rect x="558.82" y="430.30" width="4.20" height="4.20" fill="#f04040" />
<rect x="591.46" y="453.50" width="4.20" height="4.20" fill="#f04040" />
<rect x="572.4" y="295.4" width="42.2" height="34" fill="#fff" stroke="#444" stroke-width="1"/>
<line x1="572.00" y1="329.60" x2="615.00" y2="329.60" stroke="#999" stroke-width="1.2" />
<rect x="585.90" y="303.90" width="4.20" height="4.20" fill="#0000ff" />
<rect x="585.90" y="319.10" width="4.20" height="4.20" fill="#f04040" />
<text x="605.3" y="310.4" font-size="13.5" fill="#111" font-family="Liberation Serif">η</text>
<text x="605.6" y="325.2" font-size="12.8" fill="#111" font-style="italic">F</text>
<text x="412.20" y="465.90" font-size="12.8" fill="#111" text-anchor="start" >TiO<tspan font-size="9.6" dy="3.1">2</tspan></text>
<text x="508.30" y="513.80" font-size="12.45" fill="#111" text-anchor="middle" >Dipole z-axis position (nm)</text>
<text transform="translate(365,384.3) rotate(-90)" font-size="12.5" fill="#0000ff" text-anchor="middle">Collection efficiency (%)</text>
<text transform="translate(660,381.8) rotate(-90)" font-size="12.5" fill="#ff0000" text-anchor="middle">Purcell factor</text>
<text x="353.50" y="292.70" font-size="13.7" fill="#111" text-anchor="start" letter-spacing="0.7">d)</text>
</svg>
</body></html>
